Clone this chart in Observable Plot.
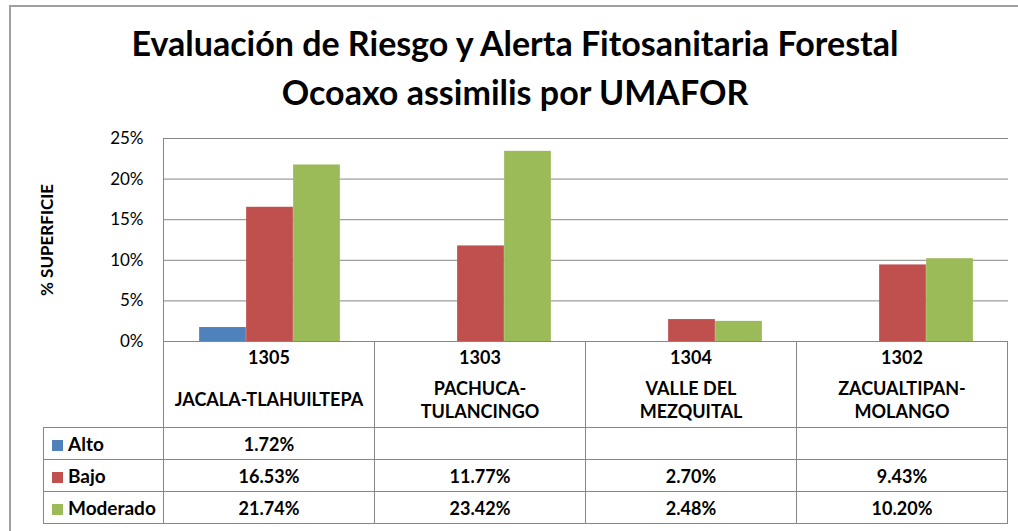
<!DOCTYPE html>
<html><head><meta charset="utf-8">
<script src="https://cdn.jsdelivr.net/npm/d3@7"></script>
<script src="https://cdn.jsdelivr.net/npm/@observablehq/plot@0.6"></script>
<style>
html,body{margin:0;padding:0;background:#fff;overflow:hidden;width:1018px;height:531px;font-family:Lato,sans-serif;color:#000;}
#frame{position:absolute;left:9px;top:5px;width:1040px;height:600px;border-left:2px solid #a0a0a0;border-top:2px solid #a0a0a0;}
#title{position:absolute;left:9px;width:1012px;top:18px;text-align:center;font-weight:700;font-size:34px;line-height:49px;}
#chart{position:absolute;left:0;top:120px;}
#tbl{position:absolute;left:43px;top:341px;}
table{border-collapse:collapse;table-layout:fixed;}
td{border:1px solid #868686;padding:0;text-align:center;font-weight:700;font-size:18px;line-height:20px;}
tr.head td{border-top:none;height:86px;vertical-align:top;}
tr.head td.blank{border-left:none;}
tr.row td{height:31px;}
td.leg{text-align:left;padding-left:8px;font-size:19px;}
.sw{display:inline-block;width:11px;height:11px;margin-right:5px;vertical-align:0px;}
.num{height:32px;line-height:32px;}
.name{height:54px;display:flex;align-items:center;justify-content:center;line-height:23.5px;}
</style>
</head><body>
<div id="frame"></div>
<div id="title">Evaluación de Riesgo y Alerta Fitosanitaria Forestal<br>Ocoaxo assimilis por UMAFOR</div>
<div id="chart"></div>
<div id="tbl"></div>
<script>
const categories = ["1305", "1303", "1304", "1302"];
const names = [["JACALA-TLAHUILTEPA"], ["PACHUCA-", "TULANCINGO"], ["VALLE DEL", "MEZQUITAL"], ["ZACUALTIPAN-", "MOLANGO"]];
const series = ["Alto", "Bajo", "Moderado"];
const alto = [0.0172, null, null, null];
const bajo = [0.1653, 0.1177, 0.0270, 0.0943];
const moderado = [0.2174, 0.2342, 0.0248, 0.1020];
const colors = ["#4F81BD", "#C0504D", "#9BBB59"];
const yTicks = [0, 0.05, 0.10, 0.15, 0.20, 0.25];
const yLabel = "% SUPERFICIE";

const values = [alto, bajo, moderado];
const marginLeft = 163, marginRight = 10, width = 1018;
const bw = (width - marginLeft - marginRight) / categories.length;
const w = bw / 4.495;
const off = (bw - 3 * w) / 2;

const bars = series.map((s, i) => Plot.barY(categories, {
  x: d => d,
  y: (d, j) => values[i][j],
  fill: colors[i],
  insetLeft: off + i * w,
  insetRight: bw - off - (i + 1) * w
}));

const chart = Plot.plot({
  width, height: 235,
  marginTop: 18, marginBottom: 14, marginLeft, marginRight,
  style: {fontFamily: "Lato, sans-serif", fontSize: "17px", color: "#000", background: "transparent"},
  x: {domain: categories, padding: 0, axis: null},
  y: {domain: [0, 0.25]},
  marks: [
    Plot.gridY(yTicks, {stroke: "#868686", strokeOpacity: 1}),
    Plot.frame({anchor: "left", stroke: "#868686"}),
    Plot.axisY(yTicks, {tickFormat: d3.format(".0%"), tickSize: 0, tickPadding: 20, fontSize: 17,
      label: null}),
    Plot.axisY({label: yLabel, labelAnchor: "center", labelOffset: 123, labelArrow: "none", ticks: [], tickSize: 0, fontWeight: 700, fontSize: 17}),
    ...bars
  ]
});
document.getElementById("chart").appendChild(chart);

const xs = chart.scale("x");
const band = xs.bandwidth;
const fmt = d3.format(".2%");
let html = `<table style="width:${120 + band * categories.length}px"><colgroup><col style="width:120px">` +
  categories.map(() => `<col style="width:${band}px">`).join("") + `</colgroup>`;
html += `<tr class="head"><td class="blank"></td>` + categories.map((c, i) =>
  `<td><div class="num">${c}</div><div class="name"><div>${names[i].join("<br>")}</div></div></td>`).join("") + `</tr>`;
series.forEach((s, i) => {
  html += `<tr class="row"><td class="leg"><span class="sw" style="background:${colors[i]}"></span>${s}</td>` +
    values[i].map(v => `<td>${v == null ? "" : fmt(v)}</td>`).join("") + `</tr>`;
});
html += `</table>`;
document.getElementById("tbl").innerHTML = html;
</script>
</body></html>
